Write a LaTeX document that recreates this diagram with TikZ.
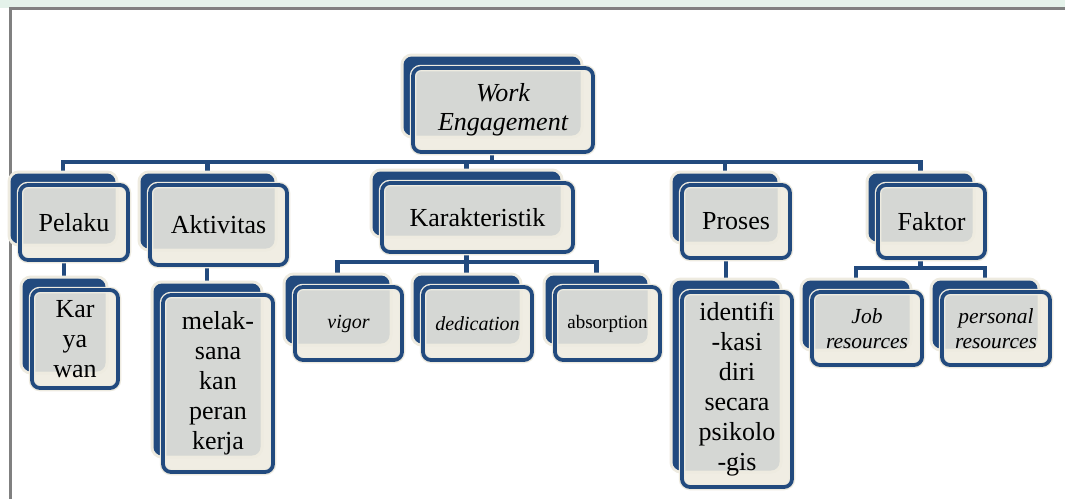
\documentclass[tikz,border=0pt]{standalone}
\usepackage{fontspec}
\setmainfont{Liberation Serif}
\pgfdeclarelayer{background}
\pgfsetlayers{background,main}

\definecolor{orgblue}{HTML}{224A7E}
\definecolor{orgcream}{HTML}{EEEBE0}
\definecolor{mintstrip}{HTML}{E4F2EA}
\definecolor{framegray}{HTML}{808080}

\tikzset{
  backbox/.style={rectangle, rounded corners=8pt, inner sep=0pt,
    fill=orgblue, draw=orgblue, line width=1pt,
    preaction={draw=orgcream, line width=7pt}},
  frontbox/.style={rectangle, rounded corners=8pt, inner sep=0pt,
    preaction={draw=orgcream, line width=6.5pt},
    fill=orgcream, fill opacity=0.88, text opacity=1,
    draw=orgblue, line width=3.8pt, align=center, text=black},
  conn/.style={draw=orgblue, line width=4.5pt},
  lvl/.style={font=\fontsize{26}{30}\selectfont},
  lvlit/.style={font=\fontsize{26}{29}\selectfont\itshape},
  leafit/.style={font=\fontsize{20}{24}\selectfont\itshape},
  leafrm/.style={font=\fontsize{19}{23}\selectfont},
  resit/.style={font=\fontsize{21.5}{25}\selectfont\itshape},
}

% #1 name, #2 left, #3 top, #4 right, #5 bottom of the front box, #6 style, #7 text
\newcommand{\orgbox}[7]{%
  \pgfmathsetmacro{\bxc}{(#2+#4)/2}%
  \pgfmathsetmacro{\byc}{(#3+#5)/2}%
  \pgfmathsetmacro{\bxw}{#4-#2}%
  \pgfmathsetmacro{\bxh}{#5-#3}%
  \pgfmathsetmacro{\bkw}{\bxw-4}%
  \pgfmathsetmacro{\bkh}{\bxh-6}%
  \node[backbox, minimum width=\bkw pt, minimum height=\bkh pt]
    (#1-b) at (\bxc-11,\byc-14) {};
  \node[frontbox, #6, minimum width=\bxw pt, minimum height=\bxh pt]
    (#1) at (\bxc,\byc) {#7};
}

\begin{document}
\begin{tikzpicture}[x=1pt,y=-1pt]
  \useasboundingbox (0,0) rectangle (1065,499);

  % bar heights of the tree levels
  \coordinate (bar1) at (0,162);
  \coordinate (bar2) at (0,262);
  \coordinate (bar3) at (0,268);

  % root
  \orgbox{we}{413}{68}{593}{152}{lvlit}{Work\\Engagement}
  % first level
  \orgbox{pel}{20}{185}{128}{260}{lvl}{Pelaku}
  \orgbox{akt}{150}{185}{287}{265}{lvl}{Aktivitas}
  \orgbox{kar}{382}{183}{573}{252}{lvl}{Karakteristik}
  \orgbox{pro}{682}{185}{790}{258}{lvl}{Proses}
  \orgbox{fak}{878}{185}{985}{258}{lvl}{Faktor}
  % second level
  \orgbox{kyw}{32}{290}{118}{388}{lvl}{Kar\\ya\\wan}
  \orgbox{mel}{163}{295}{273}{472}{lvl}{melak-\\sana\\kan\\peran\\kerja}
  \orgbox{vig}{295}{287}{402}{360}{leafit}{vigor}
  \orgbox{ded}{423}{287}{532}{360}{leafit}{dedication}
  \orgbox{abs}{555}{287}{660}{360}{leafrm}{absorption}
  \orgbox{idn}{682}{292}{792}{487}{lvl}{identifi\\-kasi\\diri\\secara\\psikolo\\-gis}
  \orgbox{job}{812}{292}{922}{365}{resit}{Job\\resources}
  \orgbox{per}{942}{292}{1050}{365}{resit}{personal\\resources}

  \begin{pgfonlayer}{background}
    % page, top strip and frame
    \fill[white] (0,0) rectangle (1065,499);
    \fill[mintstrip] (0,0) rectangle (1065,8);
    \draw[framegray, line width=3pt] (1065,8.5) -- (10.5,8.5) -- (10.5,499);
    % root to first level
    \draw[conn] (we-b.south |- we.south) -- (we-b.south |- bar1);
    \draw[conn] (pel-b.north) -- (pel-b.north |- bar1) -| (fak-b.north);
    \draw[conn] (akt-b.north) -- (akt-b.north |- bar1);
    \draw[conn] (kar-b.north) -- (kar-b.north |- bar1);
    \draw[conn] (pro-b.north) -- (pro-b.north |- bar1);
    % first level to second level
    \draw[conn] (kyw-b.north) -- (kyw-b.north |- pel.south);
    \draw[conn] (mel-b.north) -- (mel-b.north |- akt.south);
    \draw[conn] (kar-b.north |- kar.south) -- (kar-b.north |- bar2);
    \draw[conn] (vig-b.north) -- (vig-b.north |- bar2) -| (abs-b.north);
    \draw[conn] (ded-b.north) -- (ded-b.north |- bar2);
    \draw[conn] (idn-b.north) -- (idn-b.north |- pro.south);
    \draw[conn] (fak-b.north |- fak.south) -- (fak-b.north |- bar3);
    \draw[conn] (job-b.north) -- (job-b.north |- bar3) -| (per-b.north);
  \end{pgfonlayer}
\end{tikzpicture}
\end{document}
